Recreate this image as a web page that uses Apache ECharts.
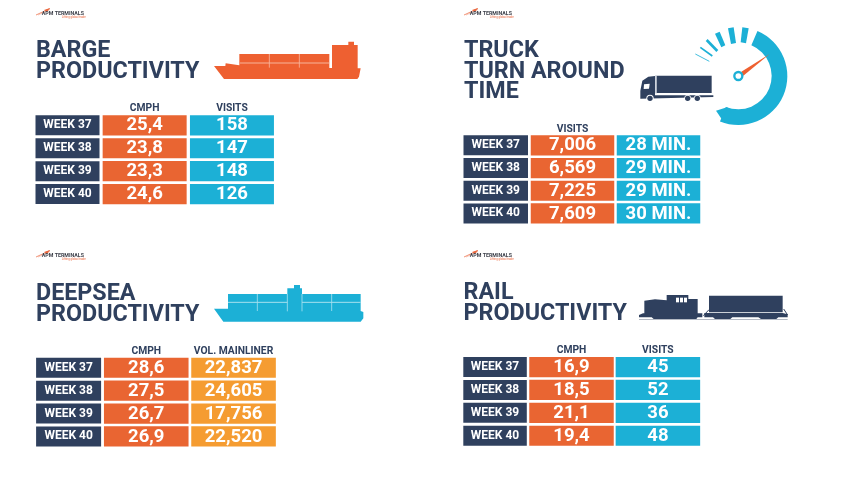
<!DOCTYPE html>
<html><head><meta charset="utf-8">
<script src="https://cdn.jsdelivr.net/npm/echarts@6/dist/echarts.min.js"></script>
<style>html,body{margin:0;padding:0;background:#fff}#c{width:850px;height:480px}</style>
</head><body><div id="c"></div>
<script>
const weeks = ['WEEK 37','WEEK 38','WEEK 39','WEEK 40'];
const bargeCmph = [25.4,23.8,23.3,24.6];
const bargeVisits = [158,147,148,126];
const truckVisits = [7006,6569,7225,7609];
const truckMinutes = [28,29,29,30];
const deepseaCmph = [28.6,27.5,26.7,26.9];
const deepseaVolume = [22837,24605,17756,22520];
const railCmph = [16.9,18.5,21.1,19.4];
const railVisits = [45,52,36,48];

const NAVY='#2F405E', ORANGE='#E96532', BLUE='#1CB0D6', AMBER='#F59C31', ICON='#EE6031';
const FONT='Roboto';
const dec=v=>v.toFixed(1).replace('.',',');
const thou=v=>String(v).replace(/(\d)(\d{3})$/,'$1,$2');
const plain=v=>String(v);
const mins=v=>v+' MIN.';

const panels=[
 {title:'BARGE\nPRODUCTIVITY',tx:36,ty:41,logo:[0,0],heads:['CMPH','VISITS'],cols:[[bargeCmph,ORANGE,dec],[bargeVisits,BLUE,plain]],
  left:101,top:113.9,pitchX:87.3,pitchY:22.9,cw:84,weekW:64},
 {title:'TRUCK\nTURN AROUND\nTIME',tx:464,ty:40.5,logo:[428,0],heads:['VISITS',''],cols:[[truckVisits,ORANGE,thou],[truckMinutes,BLUE,mins]],
  left:529.5,top:134,pitchX:86,pitchY:22.7,cw:83.5,weekW:64.5},
 {title:'DEEPSEA\nPRODUCTIVITY',tx:36,ty:283.5,logo:[0,242],heads:['CMPH','VOL. MAINLINER'],cols:[[deepseaCmph,ORANGE,dec],[deepseaVolume,AMBER,thou]],
  left:102.6,top:356.3,pitchX:87.3,pitchY:22.9,cw:84.6,weekW:65},
 {title:'RAIL\nPRODUCTIVITY',tx:463.5,ty:283,logo:[428,242],heads:['CMPH','VISITS'],cols:[[railCmph,ORANGE,dec],[railVisits,BLUE,plain]],
  left:528.3,top:355.6,pitchX:86.4,pitchY:22.9,cw:84.5,weekW:63.5}
];

const grids=[],xAxes=[],yAxes=[],series=[],titles=[];
panels.forEach((p,i)=>{
  grids.push({left:p.left,top:p.top,width:p.pitchX*2,height:p.pitchY*4,containLabel:false});
  xAxes.push({type:'category',gridIndex:i,position:'top',data:p.heads,axisLine:{show:false},axisTick:{show:false},
    axisLabel:{interval:0,margin:0,color:NAVY,fontFamily:FONT,fontWeight:700,fontSize:10.3}});
  yAxes.push({type:'category',gridIndex:i,inverse:true,data:weeks,axisLine:{show:false},axisTick:{show:false},
    axisLabel:{interval:0,margin:1.5,formatter:'{w|{value}}',rich:{w:{width:p.weekW,height:20,lineHeight:20,align:'center',backgroundColor:NAVY,color:'#fff',fontFamily:FONT,fontWeight:700,fontSize:12}}}});
  p.cols.forEach((c,ci)=>{
    series.push({type:'custom',xAxisIndex:i,yAxisIndex:i,silent:true,animation:false,clip:false,
      encode:{x:0,y:1},
      data:c[0].map((v,r)=>[ci,r,v]),
      renderItem:(params,api)=>{
        const pt=api.coord([api.value(0),api.value(1)]);
        const w=p.cw,h=20.2;
        return {type:'group',children:[
          {type:'rect',shape:{x:pt[0]-w/2,y:pt[1]-h/2,width:w,height:h},style:{fill:c[1]}},
          {type:'text',style:{x:pt[0],y:pt[1]+0.5,text:c[2](api.value(2)),fill:'#fff',align:'center',verticalAlign:'middle',font:'700 18.5px '+FONT}}
        ]};
      }});
  });
  titles.push({text:p.title,left:p.tx,top:p.ty,padding:0,textStyle:{color:NAVY,fontFamily:FONT,fontWeight:700,fontSize:23.3,lineHeight:20.8}});
});

const scaled=(x,y,children)=>({type:'group',x,y,scaleX:1/3,scaleY:1/3,silent:true,children});
const poly=(pts,fill)=>({type:'polygon',shape:{points:pts},style:{fill}});
const rect=(x,y,w,h,fill)=>({type:'rect',shape:{x,y,width:w,height:h},style:{fill}});
const ln=(a,b,c,d,stroke,lw)=>({type:'line',shape:{x1:a,y1:b,x2:c,y2:d},style:{stroke,lineWidth:lw}});
const circ=(x,y,r,fill)=>({type:'circle',shape:{cx:x,cy:y,r},style:{fill}});

const bargeIcon=scaled(210,35,[
  poly([[12,93],[46,93],[47,85],[88,91],[88,57],[358,57],[358,99],[366,99],[366,30],[415,30],[415,20],[432,20],[432,30],[443,30],[443,100],[452,100],[447,125],[442,132],[42,132]],ICON),
  ln(90,84,358,84,'#F7B49B',3),ln(178,57,178,98,'#F7B49B',2.5),ln(268,57,268,98,'#F7B49B',2.5)
]);
const deepIcon=scaled(210,280,[
  poly([[12,86],[54,86],[54,42],[232,42],[232,25],[252,25],[252,15],[270,15],[270,25],[276,25],[276,42],[452,42],[452,93],[460,96],[460,115],[452,125],[40,125]],BLUE),
  ln(54,67,232,67,'#A6E0EF',3),ln(276,67,452,67,'#A6E0EF',3),
  ln(142,42,142,93,'#A6E0EF',2.5),ln(232,42,232,94,'#A6E0EF',2.5),ln(276,42,276,94,'#A6E0EF',2.5),ln(365,42,365,93,'#A6E0EF',2.5)
]);
const truckIcon=scaled(635,20,[
  rect(65,167,165,52,NAVY),ln(63,166,63,220,'#9AA5B8',3),
  poly([[16,212],[22,182],[40,170],[60,168],[60,226],[235,226],[235,231],[16,236]],NAVY),
  poly([[27,193],[44,191],[42,206],[26,207]],'#fff'),
  circ(45,235,11,'#fff'),circ(45,235,8,NAVY),circ(158,235,10,'#fff'),circ(158,235,8,NAVY),circ(187,235,10,'#fff'),circ(187,235,8,NAVY)
]);
const gaugeIcon=scaled(635,20,[
  {type:'sector',shape:{cx:310,cy:168,r:147,r0:100,startAngle:-67*Math.PI/180,endAngle:112*Math.PI/180,clockwise:true},style:{fill:BLUE}},
  poly([[243,272],[278,261],[262,300]],BLUE),
  poly([[322,22],[341,25],[333,70],[317,67]],BLUE),
  poly([[279,25],[296,22],[303,69],[288,72]],BLUE),
  poly([[240,41],[254,35],[271,76],[259,82]],BLUE),
  ln(215,60,247,93,BLUE,8),ln(196,82,232,108,BLUE,5),ln(181,102,223,124,BLUE,2.5),
  poly([[404,102],[319,155],[325,167]],ICON),
  {type:'circle',shape:{cx:310,cy:168,r:12},style:{fill:'#fff',stroke:BLUE,lineWidth:7}}
]);
const railGrey='#B4BAC4';
const trainIcon=scaled(635,285,[
  rect(12,102,446,3,railGrey),
  poly([[28,85],[28,47],[60,43],[95,46],[95,30],[160,30],[160,42],[188,42],[188,85],[202,85],[202,97],[188,97],[184,102],[56,102],[50,97],[12,97],[12,90],[24,85]],NAVY),
  rect(123,38,9,14,'#fff'),rect(135,38,9,14,'#fff'),rect(147,38,9,14,'#fff'),
  rect(222,32,221,50,NAVY),
  poly([[208,84],[443,84],[458,88],[458,97],[430,97],[424,102],[378,102],[370,97],[292,97],[286,102],[240,102],[234,97],[208,97]],NAVY),
  ln(205,92,222,74,NAVY,3),ln(458,90,446,72,NAVY,3)
]);

const logos=panels.map(p=>({type:'group',x:p.logo[0],y:p.logo[1],silent:true,children:[
  ln(36,15,50,8.5,'#E9663D',0.7),ln(38,15,50,9.5,'#F19A7F',0.6),
  poly([[44,10],[50,8],[47,12]],'#E9663D'),
  {type:'text',style:{x:41.7,y:13.8,text:'APM TERMINALS',fill:'#3C3F49',align:'left',verticalAlign:'middle',font:'700 5.3px '+FONT}},
  {type:'text',style:{x:85.7,y:16.8,text:'Lifting global trade',fill:'#E9663D',align:'right',verticalAlign:'middle',font:'400 2.9px '+FONT}}
]}));

const chart=echarts.init(document.getElementById('c'),null,{renderer:'canvas'});
chart.setOption({animation:false,backgroundColor:'#fff',title:titles,grid:grids,xAxis:xAxes,yAxis:yAxes,series,
  graphic:{elements:[...logos,bargeIcon,deepIcon,truckIcon,gaugeIcon,trainIcon]}});
</script></body></html>
